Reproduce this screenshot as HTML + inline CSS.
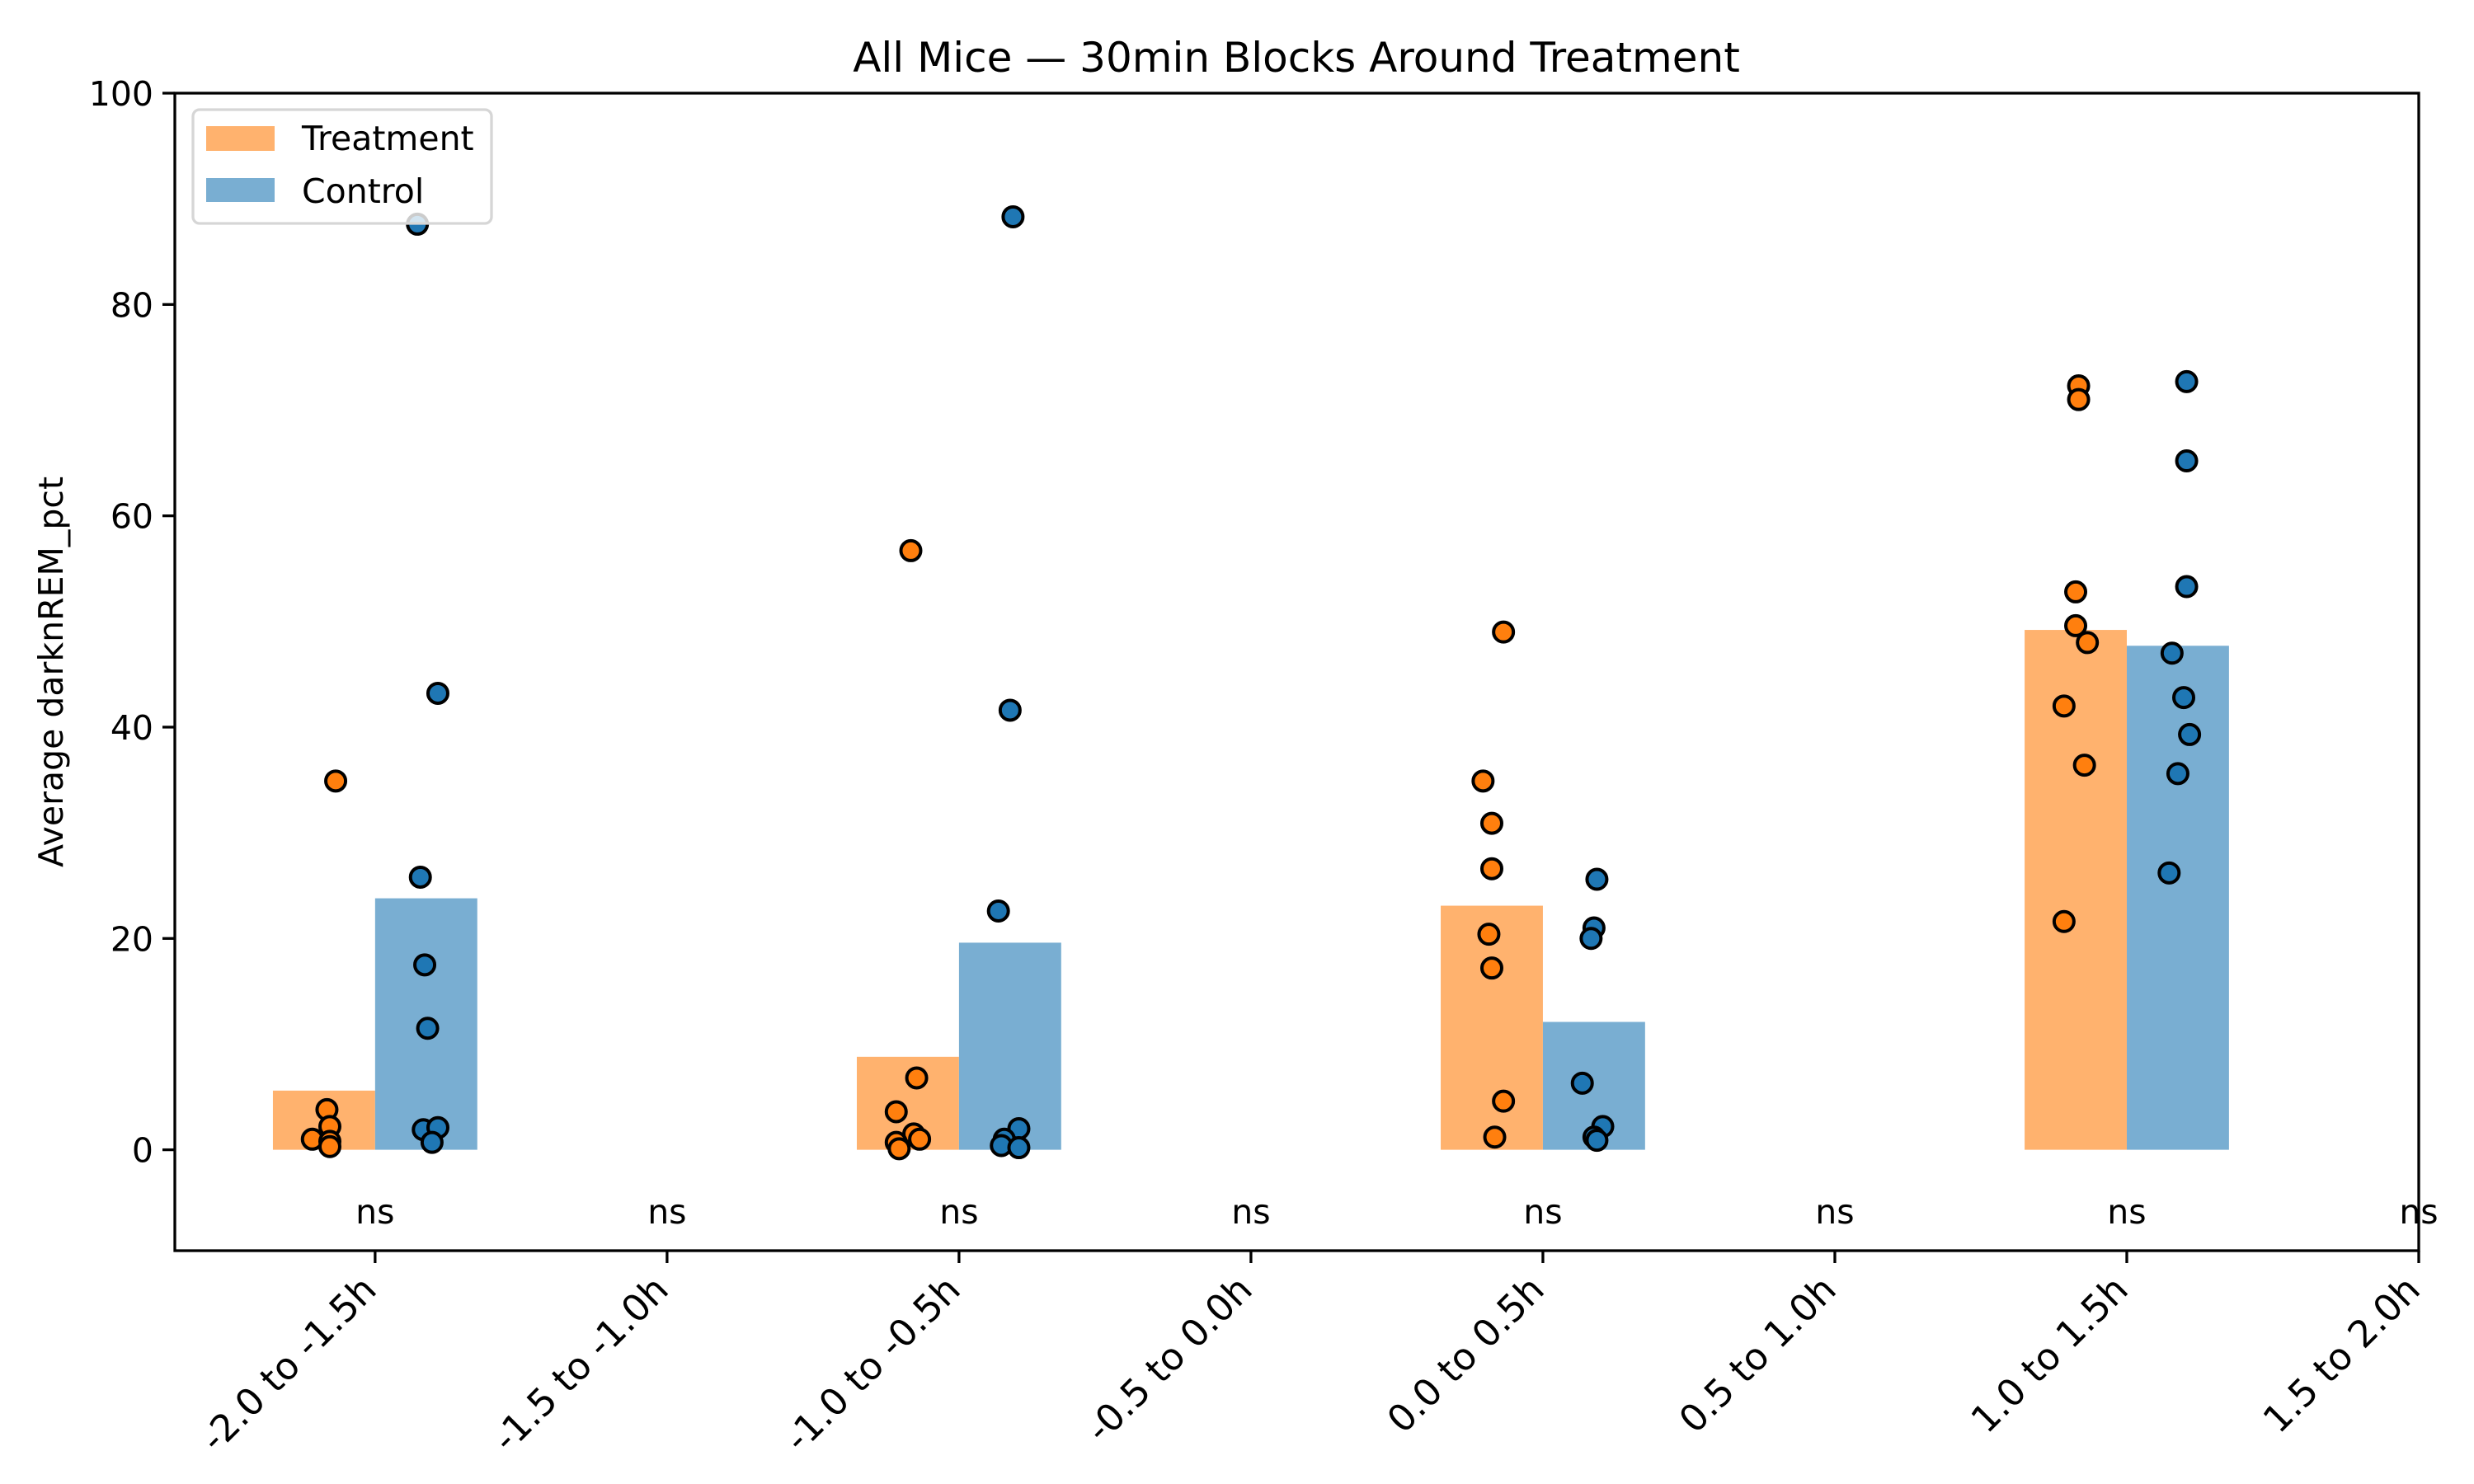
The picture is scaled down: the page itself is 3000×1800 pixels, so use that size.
<!DOCTYPE html>
<html><head><meta charset="utf-8"><style>
body{margin:0;background:#fff}
svg{display:block;font-family:"DejaVu Sans","Liberation Sans",sans-serif}
</style></head><body>
<svg id="chart" width="3000" height="1800" xmlns="http://www.w3.org/2000/svg">
<rect width="3000" height="1800" fill="#fff"/>
<text x="1572" y="87" font-size="50" text-anchor="middle">All Mice — 30min Blocks Around Treatment</text>
<text transform="translate(76,815) rotate(-90)" font-size="41" text-anchor="middle">Average darknREM_pct</text>
<g id="plot"></g>
<rect x="212" y="113" width="2721" height="1404" fill="none" stroke="#000" stroke-width="3.3"/>
<g>
<rect x="234" y="133" width="362" height="138" rx="8" fill="#fff" fill-opacity="0.8" stroke="#d6d6d6" stroke-width="3.3"/>
<rect x="250" y="153" width="83" height="30" fill="#ffb26e"/>
<text x="366" y="182" font-size="41">Treatment</text>
<rect x="250" y="216" width="83" height="29" fill="#79aed2"/>
<text x="366" y="246" font-size="41">Control</text>
</g>
</svg>
<script>
const categories = ["-2.0 to -1.5h","-1.5 to -1.0h","-1.0 to -0.5h","-0.5 to 0.0h","0.0 to 0.5h","0.5 to 1.0h","1.0 to 1.5h","1.5 to 2.0h"];
const treatmentMeans = [5.6,null,8.8,null,23.1,null,49.2,null];
const controlMeans = [23.8,null,19.6,null,12.1,null,47.7,null];
const treatmentPoints = [[34.9,3.8,2.2,1.0,0.8,0.3],[],[56.7,6.8,3.6,1.5,1.0,0.7,0.1],[],[49.0,34.9,30.9,26.6,20.4,17.2,4.6,1.2],[],[72.3,71.0,52.8,49.6,48.0,42.0,36.4,21.6],[]];
const treatmentJitter = [[0.04,0.01,0.02,-0.04,0.02,0.02],[],[0.01,0.03,-0.04,0.02,0.04,-0.04,-0.03],[],[0.04,-0.03,0,0,-0.01,0,0.04,0.01],[],[0.01,0.01,0,0,0.04,-0.04,0.03,-0.04],[]];
const controlPoints = [[87.6,43.2,25.8,17.5,11.5,1.9,2.1,0.7],[],[88.3,41.6,22.6,2.0,1.0,0.4,0.2],[],[25.6,21.0,20.0,6.3,2.2,1.2,0.9],[],[72.7,65.2,53.3,47.0,42.8,39.3,35.6,26.2],[]];
const controlJitter = [[-0.03,0.04,-0.02,-0.005,0.005,-0.01,0.04,0.02],[],[0.01,0,-0.04,0.03,-0.02,-0.03,0.03],[],[0.01,0,-0.01,-0.04,0.03,0,0.01],[],[0.03,0.03,0.03,-0.02,0.02,0.04,0,-0.03],[]];
const sigLabels = ["ns","ns","ns","ns","ns","ns","ns","ns"];
const yTicks = [0,20,40,60,80,100];

const L=212,R=2933,T=113,B=1517, XMIN=-0.686, XMAX=7, YMIN=-9.55, YMAX=100;
const xs=v=>L+(v-XMIN)/(XMAX-XMIN)*(R-L);
const ys=v=>B-(v-YMIN)/(YMAX-YMIN)*(B-T);
const NS="http://www.w3.org/2000/svg";
const g=document.getElementById('plot');
function mk(tag,attrs,parent){const e=document.createElementNS(NS,tag);for(const k in attrs)e.setAttribute(k,attrs[k]);(parent||g).appendChild(e);return e;}
const W=0.35;
categories.forEach((c,i)=>{
  if(treatmentMeans[i]!=null){
    const r=mk('rect',{x:xs(i-W),y:ys(treatmentMeans[i]),width:xs(W)-xs(0),height:ys(0)-ys(treatmentMeans[i]),fill:'#ffb26e'});
    
    
  }
  if(controlMeans[i]!=null){
    const r=mk('rect',{x:xs(i),y:ys(controlMeans[i]),width:xs(W)-xs(0),height:ys(0)-ys(controlMeans[i]),fill:'#79aed2'});
    
    
  }
});
categories.forEach((c,i)=>{
  treatmentPoints[i].forEach((v,j)=>{
    const p=mk('circle',{cx:xs(i-W/2+treatmentJitter[i][j]),cy:ys(v),r:12,fill:'#ff7f0e',stroke:'#000','stroke-width':4});
    
    
  });
  controlPoints[i].forEach((v,j)=>{
    const p=mk('circle',{cx:xs(i+W/2+controlJitter[i][j]),cy:ys(v),r:12,fill:'#1f77b4',stroke:'#000','stroke-width':4});
    
    
  });
  const s=mk('text',{x:xs(i),y:1484,'font-size':41,'text-anchor':'middle'});
  s.textContent=sigLabels[i];
  
  
  const t=mk('line',{x1:xs(i),x2:xs(i),y1:B,y2:B+15,stroke:'#000','stroke-width':3.3});
  
  
  const lb=mk('text',{transform:`translate(${xs(i)+4},${B+50}) rotate(-45)`,'font-size':45,'text-anchor':'end'});
  lb.textContent=c;
  
  
});
yTicks.forEach(v=>{
  const t=mk('line',{x1:L-15,x2:L,y1:ys(v),y2:ys(v),stroke:'#000','stroke-width':3.3});
  
  
  const lb=mk('text',{x:L-26,y:ys(v)+15,'font-size':41,'text-anchor':'end'});
  lb.textContent=v;
  
  
});
</script>
</body></html>
